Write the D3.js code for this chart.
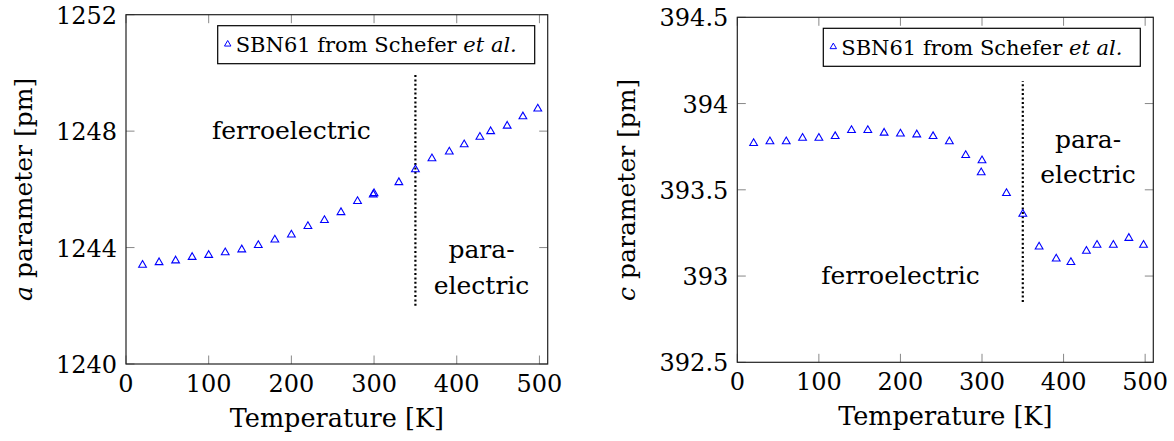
<!DOCTYPE html>
<html>
<head>
<meta charset="utf-8">
<script src="https://cdn.jsdelivr.net/npm/d3@7"></script>
<style>
	body { margin: 0; background: #fff; }
</style>
</head>
<body>
<div id="chart"></div>
<script>
var temperature = [20,40,60,80,100,120,140,160,180,200,220,240,260,280,299,300,330,350,370,391,409,428,441,461,480,498]
var aParam = [1243.40,1243.49,1243.55,1243.67,1243.74,1243.83,1243.93,1244.08,1244.27,1244.44,1244.73,1244.94,1245.21,1245.59,1245.82,1245.86,1246.24,1246.68,1247.06,1247.29,1247.54,1247.80,1247.99,1248.18,1248.50,1248.77]
var cParam = [393.77,393.78,393.78,393.80,393.80,393.81,393.845,393.845,393.83,393.825,393.82,393.81,393.78,393.70,393.60,393.67,393.48,393.36,393.17,393.10,393.08,393.145,393.18,393.18,393.22,393.18]
var xTicks = [0,100,200,300,400,500]
var aTicks = [1240,1244,1248,1252]
var cTicks = [392.5,393,393.5,394,394.5]
var legendLabel = "SBN61 from Schefer "
var legendItalic = "et al."

var svg = d3.select("#chart")
	.append("svg")
	.attr("width", 1174)
	.attr("height", 441)
	.attr("font-family", "'DejaVu Serif', 'Liberation Serif', serif")

function createChart(opt){
	var g = svg.append("g")
	var x = d3.scaleLinear().domain([0, 510]).range([opt.left, opt.right])
	var y = d3.scaleLinear().domain(opt.ydomain).range([opt.bottom, opt.top])
	var tick = 8.5

	// ticks on all four sides, pointing inward
	g.selectAll(".xt").data(xTicks).enter().append("path")
		.attr("d", function(d){ return "M" + x(d) + "," + opt.bottom + "v" + (-tick) + "M" + x(d) + "," + opt.top + "v" + tick })
		.attr("stroke", "#888").attr("stroke-width", 1)
	g.selectAll(".yt").data(opt.yticks).enter().append("path")
		.attr("d", function(d){ return "M" + opt.left + "," + y(d) + "h" + tick + "M" + opt.right + "," + y(d) + "h" + (-tick) })
		.attr("stroke", "#888").attr("stroke-width", 1)

	g.append("rect")
		.attr("x", opt.left).attr("y", opt.top)
		.attr("width", opt.right - opt.left).attr("height", opt.bottom - opt.top)
		.attr("fill", "none").attr("stroke", "#222").attr("stroke-width", 1.2)

	// tick labels
	g.selectAll(".xl").data(xTicks).enter().append("text")
		.attr("x", function(d){ return x(d) }).attr("y", opt.bottom + 27.5)
		.attr("text-anchor", "middle").attr("font-size", 24)
		.text(function(d){ return d })
	g.selectAll(".yl").data(opt.yticks).enter().append("text")
		.attr("x", opt.left - 9).attr("y", function(d){ return y(d) + 9 })
		.attr("text-anchor", "end").attr("font-size", 24)
		.text(function(d){ return d })

	// axis labels
	g.append("text")
		.attr("x", (opt.left + opt.right)/2).attr("y", opt.bottom + 63)
		.attr("text-anchor", "middle").attr("font-size", 25.5)
		.text("Temperature [K]")
	var yl = g.append("text")
		.attr("transform", "translate(" + opt.ylabelX + "," + (opt.top + opt.bottom)/2 + ") rotate(-90)")
		.attr("text-anchor", "middle").attr("font-size", 25)
	yl.append("tspan").attr("font-style", "italic").text(opt.ylabelVar)
	yl.append("tspan").text(" parameter [pm]")

	// phase boundary
	g.append("line")
		.attr("x1", x(350)).attr("x2", x(350))
		.attr("y1", y(opt.lineFrom)).attr("y2", y(opt.lineTo))
		.attr("stroke", "#000").attr("stroke-width", 2.2)
		.attr("stroke-dasharray", "2,2.4")

	// region labels
	g.append("text")
		.attr("x", x(200)).attr("y", y(opt.ferroY) + 8)
		.attr("text-anchor", "middle").attr("font-size", 25)
		.text("ferroelectric")
	g.append("text")
		.attr("x", x(430)).attr("y", y(opt.paraY) - 9.5)
		.attr("text-anchor", "middle").attr("font-size", 25)
		.text("para-")
	g.append("text")
		.attr("x", x(430)).attr("y", y(opt.paraY) + 26)
		.attr("text-anchor", "middle").attr("font-size", 25)
		.text("electric")

	// data points
	var tri = d3.symbol().type(d3.symbolTriangle).size(26)
	g.selectAll(".pt").data(temperature).enter().append("path")
		.attr("d", tri)
		.attr("transform", function(d, i){ return "translate(" + x(d) + "," + y(opt.values[i]) + ")" })
		.attr("fill", "none").attr("stroke", "#0000ff").attr("stroke-width", 1.1)

	// legend
	var lw = 317, lh = 38
	var lx = opt.right - 13 - lw, ly = opt.top + 11
	g.append("rect")
		.attr("x", lx).attr("y", ly).attr("width", lw).attr("height", lh)
		.attr("fill", "#fff").attr("stroke", "#000").attr("stroke-width", 1.2)
	g.append("path")
		.attr("d", d3.symbol().type(d3.symbolTriangle).size(18))
		.attr("transform", "translate(" + (lx + 10) + "," + (ly + 18.5) + ")")
		.attr("fill", "none").attr("stroke", "#0000ff").attr("stroke-width", 1)
	var lt = g.append("text")
		.attr("x", lx + 18).attr("y", ly + 26.5).attr("font-size", 21)
	lt.append("tspan").text(legendLabel)
	lt.append("tspan").attr("font-style", "italic").text(legendItalic)
}

createChart({left: 126, right: 547.7, top: 14.7, bottom: 364, ydomain: [1240, 1252], yticks: aTicks,
	values: aParam, ylabelVar: "a", ylabelX: 32, lineFrom: 1242, lineTo: 1250, ferroY: 1248, paraY: 1243.3})
createChart({left: 737.3, right: 1153.3, top: 17.3, bottom: 362.3, ydomain: [392.5, 394.5], yticks: cTicks,
	values: cParam, ylabelVar: "c", ylabelX: 635, lineFrom: 392.85, lineTo: 394.13, ferroY: 393, paraY: 393.69})
</script>
</body>
</html>
